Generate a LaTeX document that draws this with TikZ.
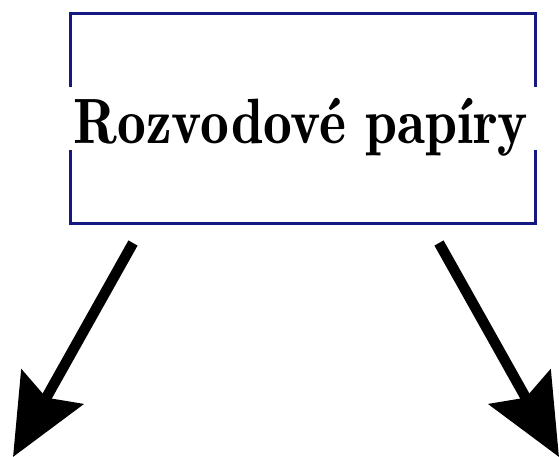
\documentclass[tikz,border=0pt]{standalone}
\usetikzlibrary{arrows.meta}
\definecolor{boxblue}{RGB}{22,24,130}
\begin{document}
\begin{tikzpicture}[x=1pt,y=-1pt]
        \tikzstyle{frame} = [rectangle, draw=boxblue, line width=3pt, minimum width=465pt, minimum height=209pt, inner sep=0pt]
        \tikzstyle{title} = [fill=white, inner xsep=9pt, inner ysep=0pt, text height=57pt, text depth=6pt, font=\fontsize{64}{70}\fontseries{b}\selectfont]
        \tikzstyle{arrow} = [line width=10.5pt, -{Stealth[length=80pt, width=70pt, inset=12pt]}]
                \useasboundingbox (0,0) rectangle (559,457);

                \node (paper) [frame] at (302.5,118.5) {};
                \node (name) [title] at (301,118.5) {\scalebox{0.9}[1]{Rozvodové papíry}};
                \coordinate (l1) at (133,243);
                \coordinate (l2) at (13,457);
                \coordinate (r1) at (439,243);
                \coordinate (r2) at (559,457);

                \draw[arrow] (l1) -- (l2);
                \draw[arrow] (r1) -- (r2);

    \end{tikzpicture}
\end{document}
